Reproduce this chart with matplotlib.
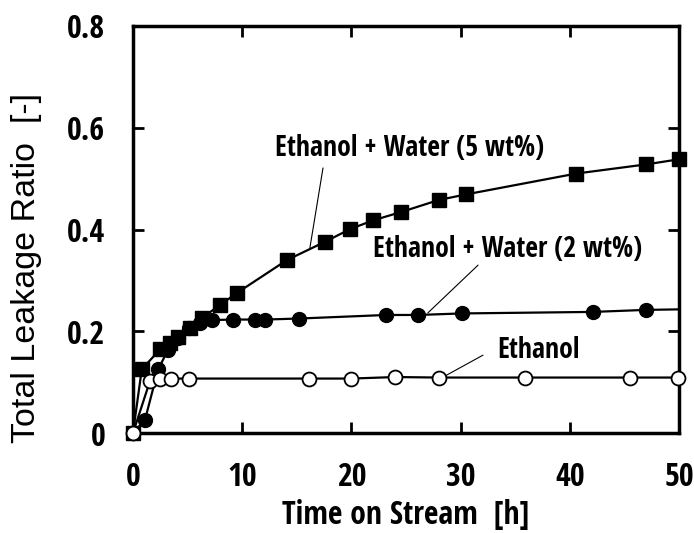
import matplotlib
matplotlib.use("Agg")
import matplotlib.pyplot as plt
from matplotlib import font_manager as fm

# ---- data ----
x_w5 = [0, 0.8, 2.5, 3.4, 4.1, 5.2, 6.3, 8.0, 9.5, 14.1, 17.6, 19.9, 22.0, 24.5, 28.0, 30.5, 40.6, 47.0, 50.0]
y_w5 = [0, 0.125, 0.165, 0.177, 0.189, 0.206, 0.226, 0.252, 0.275, 0.340, 0.376, 0.401, 0.418, 0.434, 0.458, 0.469, 0.510, 0.528, 0.538]

x_w2 = [0, 1.1, 2.3, 3.2, 4.1, 5.1, 6.1, 7.2, 9.2, 11.2, 12.1, 15.2, 23.2, 26.1, 30.1, 42.1, 47.0]
y_w2 = [0, 0.026, 0.125, 0.163, 0.186, 0.206, 0.217, 0.222, 0.223, 0.223, 0.223, 0.225, 0.232, 0.232, 0.235, 0.238, 0.242]
x_w2_fit = x_w2 + [50.0]
y_w2_fit = y_w2 + [0.243]

x_et = [0, 1.55, 2.5, 3.5, 5.1, 16.1, 20.0, 24.0, 28.0, 35.9, 45.5, 49.9]
y_et = [0, 0.102, 0.107, 0.107, 0.107, 0.107, 0.107, 0.110, 0.109, 0.109, 0.109, 0.109]

x_ticks = [0, 10, 20, 30, 40, 50]
y_ticks = [0, 0.2, 0.4, 0.6, 0.8]
y_ticklabels = ["0", "0.2", "0.4", "0.6", "0.8"]

# ---- font selection: prefer a narrow/condensed bold sans ----
def pick(bold):
    best = None
    for f in fm.fontManager.ttflist:
        nm = f.name.lower()
        narrow = ('narrow' in nm or 'condensed' in nm or
                  str(f.stretch) in ('condensed', 'semi-condensed', '600', '700') or
                  'condensed' in f.fname.lower() or 'narrow' in f.fname.lower())
        if not narrow:
            continue
        if 'italic' in f.fname.lower() or 'oblique' in f.fname.lower() or f.style != 'normal':
            continue
        w = f.weight
        isbold = (w == 'bold' or (isinstance(w, int) and w >= 600))
        if isbold != bold:
            continue
        score = 0
        if 'liberation' in nm or 'arial' in nm:
            score = 3
        elif 'roboto' in nm or 'open' in nm:
            score = 2
        elif 'dejavu' in nm:
            score = 1
        if best is None or score > best[0]:
            best = (score, f.fname)
    return best[1] if best else None

fb = pick(True)
if fb:
    FB = fm.FontProperties(fname=fb)
    scale = 1.0
else:
    FB = fm.FontProperties(family='Liberation Sans', weight='bold')
    scale = 0.85
FR = fm.FontProperties(family=['Liberation Sans', 'DejaVu Sans'])

def fp(base, size):
    p = base.copy()
    p.set_size(size)
    return p

fig = plt.figure(figsize=(6.94, 5.33), dpi=100)
ax = fig.add_axes([133/694, 1-433/533, 546/694, 407/533])

lw = 1.6
ax.plot(x_w2_fit, y_w2_fit, color='black', lw=lw, zorder=2)
ax.plot(x_w2, y_w2, 'o', color='black', ms=10, mec='black', zorder=3, clip_on=False)
ax.plot(x_w5, y_w5, 's', color='black', ls='-', lw=lw, ms=10, zorder=4, clip_on=False)
ax.plot(x_et, y_et, 'o', color='black', ls='-', lw=lw, ms=10, mfc='white', mec='black', mew=1.3, zorder=5, clip_on=False)

ax.set_xlim(0, 50)
ax.set_ylim(0, 0.8)
ax.set_xticks(x_ticks)
ax.set_xticklabels([str(v) for v in x_ticks])
ax.set_yticks(y_ticks)
ax.set_yticklabels(y_ticklabels)
ax.tick_params(direction='in', length=8, width=2, top=True, right=True, pad=20)
for lab in ax.get_xticklabels() + ax.get_yticklabels():
    lab.set_fontproperties(fp(FB, 23 * scale))
for s in ax.spines.values():
    s.set_linewidth(2.5)

ax.set_xlabel("Time on Stream  [h]", fontproperties=fp(FB, 22.8 * scale), labelpad=4)
ax.set_ylabel("Total Leakage Ratio  [-]", fontproperties=fp(FR, 24.5))
ax.yaxis.set_label_coords(-0.1667, 0.405)

tfs = 20 * scale
ax.annotate("", xy=(16.2, 0.364), xytext=(17.4, 0.521),
            arrowprops=dict(arrowstyle='-', lw=0.8, color='black', shrinkA=0, shrinkB=0))
ax.text(25.3, 0.560, "Ethanol + Water (5 wt%)", ha='center', va='center', fontproperties=fp(FB, tfs))
ax.annotate("", xy=(27.0, 0.236), xytext=(31.6, 0.330),
            arrowprops=dict(arrowstyle='-', lw=0.8, color='black', shrinkA=0, shrinkB=0))
ax.text(34.3, 0.360, "Ethanol + Water (2 wt%)", ha='center', va='center', fontproperties=fp(FB, tfs))
ax.annotate("", xy=(28.4, 0.110), xytext=(32.05, 0.153),
            arrowprops=dict(arrowstyle='-', lw=0.8, color='black', shrinkA=0, shrinkB=0))
ax.text(37.1, 0.163, "Ethanol", ha='center', va='center', fontproperties=fp(FB, tfs))

fig.savefig("out.png", dpi=100)
